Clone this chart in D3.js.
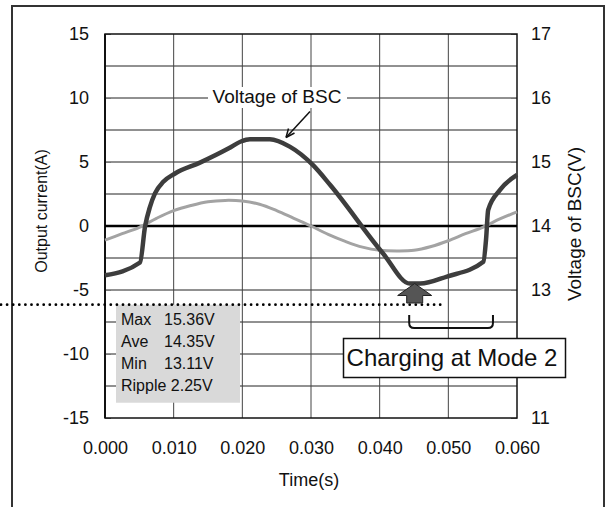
<!DOCTYPE html>
<html><head><meta charset="utf-8">
<script src="https://cdn.jsdelivr.net/npm/d3@7/dist/d3.min.js"></script>
<style>
html,body{margin:0;padding:0;background:#fff;}
svg text{font-family:"Liberation Sans",Arial,sans-serif;fill:#111;}
</style></head>
<body><svg id="c" width="608" height="507"></svg>
<script>
// ---- data ----
const voltTime = [0, 0.0051, 0.00583, 0.00655, 0.00728, 0.00849, 0.0102, 0.01383, 0.01796, 0.0198, 0.0211, 0.0240, 0.0269, 0.0303, 0.0328, 0.0405, 0.0444, 0.0459, 0.0498, 0.0551, 0.0555, 0.0558, 0.0575, 0.060];
const voltage  = [13.23, 13.43, 13.99, 14.30, 14.51, 14.69, 14.82, 14.99, 15.21, 15.32, 15.355, 15.355, 15.24, 14.95, 14.64, 13.57, 13.10, 13.10, 13.21, 13.44, 13.80, 14.25, 14.56, 14.80];
const currTime = [0, 0.0025, 0.005, 0.0075, 0.01, 0.0125, 0.015, 0.0175, 0.02, 0.0225, 0.025, 0.0275, 0.03, 0.0325, 0.035, 0.0375, 0.04, 0.0425, 0.045, 0.0475, 0.05, 0.0525, 0.055, 0.0575, 0.06];
const current  = [-1.1, -0.6, -0.1, 0.6, 1.2, 1.6, 1.9, 2.0, 1.95, 1.7, 1.2, 0.6, 0.0, -0.65, -1.2, -1.65, -1.9, -1.95, -1.9, -1.6, -1.15, -0.6, -0.1, 0.55, 1.1];
const xTicks = [0, 0.01, 0.02, 0.03, 0.04, 0.05, 0.06];
const leftTicks = [-15, -10, -5, 0, 5, 10, 15];
const leftGrid = [-12.5, -10, -7.5, -5, -2.5, 2.5, 5, 7.5, 10, 12.5];
const rightTicks = [11, 13, 14, 15, 16, 17];
const statLabels = ["Max", "Ave", "Min", "Ripple"];
const statValues = ["15.36V", "14.35V", "13.11V", "2.25V"];
const refVoltage = 12.77;      // dotted reference level
const bracketTime = [0.0443, 0.0565];
const arrowTime = 0.0451;

// ---- layout ----
const svg = d3.select("#c");
const L = 105, R = 517, T = 34, B = 418;
const x = d3.scaleLinear().domain([0, 0.06]).range([L, R]);
const yL = d3.scaleLinear().domain([-15, 15]).range([B, T]);
const yR = d3.scaleLinear().domain([11, 17]).range([B, T]);

// outer frame
svg.append("path").attr("d", "M12,520V6H604V520").attr("fill", "none").attr("stroke", "#333").attr("stroke-width", 2);

// grid
const g = svg.append("g");
g.selectAll(".hg").data(leftGrid).enter().append("line")
  .attr("x1", L).attr("x2", R).attr("y1", d => yL(d)).attr("y2", d => yL(d))
  .attr("stroke", "#222").attr("stroke-width", 1);
g.selectAll(".vg").data(xTicks.slice(1, -1)).enter().append("line")
  .attr("x1", d => x(d)).attr("x2", d => x(d)).attr("y1", T).attr("y2", B)
  .attr("stroke", "#444").attr("stroke-width", 1);

// axes
const fs = "18px";
const intFmt = d => String(d);
const ax = svg.append("g").attr("transform", `translate(${L},0)`)
  .call(d3.axisLeft(yL).tickValues(leftTicks).tickSize(-6).tickPadding(16).tickFormat(intFmt));
const ar = svg.append("g").attr("transform", `translate(${R},0)`)
  .call(d3.axisRight(yR).tickValues(rightTicks).tickSize(-6).tickPadding(14).tickFormat(intFmt));
const ab = svg.append("g").attr("transform", `translate(0,${B})`)
  .call(d3.axisBottom(x).tickValues(xTicks).tickSize(0).tickPadding(23).tickFormat(d3.format(".3f")));
[ax, ar, ab].forEach(a => {
  a.select(".domain").remove();
  a.selectAll("text").style("font-size", fs).attr("fill", "#111");
  a.selectAll(".tick line").attr("stroke", "#777");
});

// frame of plot area
svg.append("rect").attr("x", L).attr("y", T).attr("width", R - L).attr("height", B - T)
  .attr("fill", "none").attr("stroke", "#111").attr("stroke-width", 1.5);
svg.append("line").attr("x1", L).attr("x2", L).attr("y1", T).attr("y2", B).attr("stroke", "#111").attr("stroke-width", 2);
// zero line
svg.append("line").attr("x1", L).attr("x2", R).attr("y1", yL(0)).attr("y2", yL(0)).attr("stroke", "#000").attr("stroke-width", 2.5);

// current (gray)
const currData = currTime.map((t, i) => [t, current[i]]);
svg.append("path").datum(currData)
  .attr("d", d3.line().x(d => x(d[0])).y(d => yL(d[1])).curve(d3.curveCatmullRom))
  .attr("fill", "none").attr("stroke", "#a3a3a3").attr("stroke-width", 3);

// voltage (dark)
const voltData = voltTime.map((t, i) => [t, voltage[i]]);
svg.append("path").datum(voltData)
  .attr("d", d3.line().x(d => x(d[0])).y(d => yR(d[1])).curve(d3.curveMonotoneX))
  .attr("fill", "none").attr("stroke", "#3d3d3d").attr("stroke-width", 4.5).attr("stroke-linejoin", "round");

// stats box
svg.append("rect").attr("x", 116).attr("y", yR(refVoltage)).attr("width", 124).attr("height", 98).attr("fill", "#d9d9d9");
const st = svg.append("g");
statLabels.forEach((lab, i) => {
  const yy = 325 + i * 22;
  if (lab.length > 3) {
    st.append("text").attr("x", 121).attr("y", yy).style("font-size", "16px").text(lab + " " + statValues[i]);
  } else {
    st.append("text").attr("x", 121).attr("y", yy).style("font-size", "16px").text(lab);
    st.append("text").attr("x", 164).attr("y", yy).style("font-size", "16px").text(statValues[i]);
  }
});

// dotted reference line
svg.append("line").attr("x1", 1).attr("x2", 445).attr("y1", yR(refVoltage)).attr("y2", yR(refVoltage))
  .attr("stroke", "#000").attr("stroke-width", 2.8).attr("stroke-linecap", "round").attr("stroke-dasharray", "0,6.1");

// up arrow
const ax0 = x(arrowTime), tipY = 283.5;
svg.append("path")
  .attr("d", `M${ax0},${tipY}L${ax0 + 17},${tipY + 12}H${ax0 + 8}V${tipY + 19.5}H${ax0 - 8}V${tipY + 12}H${ax0 - 17}Z`)
  .attr("fill", "#555").attr("stroke", "#222").attr("stroke-width", 1);

// bracket
const bx1 = x(bracketTime[0]), bx2 = x(bracketTime[1]);
svg.append("path")
  .attr("d", `M${bx1},315V323Q${bx1},328 ${bx1 + 5},328H${bx2 - 5}Q${bx2},328 ${bx2},323V315`)
  .attr("fill", "none").attr("stroke", "#111").attr("stroke-width", 2);

// charging label box
svg.append("rect").attr("x", 343.5).attr("y", 338.5).attr("width", 222).attr("height", 39)
  .attr("fill", "#fff").attr("stroke", "#111").attr("stroke-width", 1.5);
svg.append("text").attr("x", 452).attr("y", 366).attr("text-anchor", "middle").style("font-size", "24px").text("Charging at Mode 2");

// voltage label
svg.append("rect").attr("x", 208).attr("y", 87).attr("width", 139).attr("height", 21).attr("fill", "#fff");
svg.append("text").attr("x", 277).attr("y", 103).attr("text-anchor", "middle").style("font-size", "19px").text("Voltage of BSC");
svg.append("line").attr("x1", 310).attr("y1", 111.5).attr("x2", 286).attr("y2", 137.5).attr("stroke", "#111").attr("stroke-width", 1.5);
svg.append("path").attr("d", "M286,137.5L288.5,128.5M286,137.5L294.5,133").attr("stroke", "#111").attr("stroke-width", 1.5).attr("fill", "none");

// axis titles
svg.append("text").attr("transform", "translate(47,211) rotate(-90)").attr("text-anchor", "middle").style("font-size", "16px").text("Output current(A)");
svg.append("text").attr("transform", "translate(581,224) rotate(-90)").attr("text-anchor", "middle").style("font-size", "19px").text("Voltage of BSC(V)");
svg.append("text").attr("x", 309).attr("y", 486).attr("text-anchor", "middle").style("font-size", "18px").text("Time(s)");
</script></body></html>
